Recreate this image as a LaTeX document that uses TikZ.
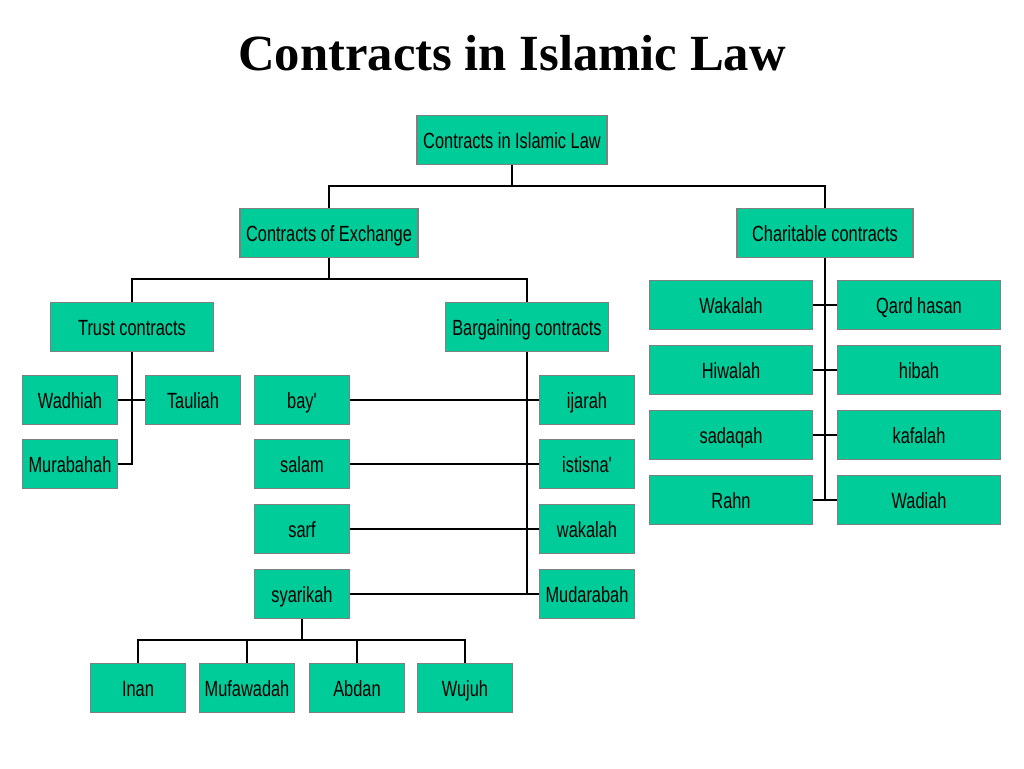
\documentclass[tikz,border=0pt]{standalone}
\usepackage{fontspec}
\setmainfont{Liberation Serif}
\newfontfamily\narrowfont[FakeStretch=0.745]{Liberation Sans}
\usetikzlibrary{positioning}

\definecolor{boxgreen}{HTML}{00CC99}
\definecolor{boxedge}{HTML}{808080}

\tikzset{
    box/.style={draw=boxedge, line width=1.1pt, fill=boxgreen, inner sep=0pt,
        minimum height=37pt, text height=12pt, text depth=0pt,
        font=\narrowfont\fontsize{16.5}{18}\selectfont},
    top/.style={box, minimum width=142.5pt},
    mid/.style={box, minimum width=122pt},
    small/.style={box, minimum width=71.5pt},
    link/.style={line width=1.1pt, black},
}

\begin{document}
\begin{tikzpicture}[x=0.75pt, y=-0.75pt]
    \useasboundingbox (0,0) rectangle (1024,768);

    \node[anchor=base, font=\bfseries\fontsize{38}{42}\selectfont] (title) at (512,70) {Contracts in Islamic Law};

    % first two levels
    \node[top] (law) at (512,140) {Contracts in Islamic Law};
    \node[top, minimum width=133.5pt] (exch) at (329,233) {Contracts of Exchange};
    \node[top, minimum width=132pt] (char) at (825,233) {Charitable contracts};
    \coordinate (j1) at (512,186);
    \draw[link] (law) -- (j1) -| (exch);
    \draw[link] (j1) -| (char);

    \node[mid] (trust) at (132,327) {Trust contracts};
    \node[mid] (barg) at (527,327) {Bargaining contracts};
    \coordinate (j2) at (329,279);
    \draw[link] (exch) -- (j2) -| (trust);
    \draw[link] (j2) -| (barg);

    % trust contracts
    \node[small] (wadhiah) at (70,400) {Wadhiah};
    \node[small] (tauliah) at (193,400) {Tauliah};
    \node[small] (murabahah) at (70,464) {Murabahah};
    \draw[link] (trust) |- (murabahah);
    \draw[link] (wadhiah) -- (tauliah);

    % bargaining contracts
    \node[small] (bay) at (302,400) {bay'};
    \node[small] (salam) at (302,464) {salam};
    \node[small] (sarf) at (302,529) {sarf};
    \node[small] (syarikah) at (302,594) {syarikah};
    \node[small] (ijarah) at (587,400) {ijarah};
    \node[small] (istisna) at (587,464) {istisna'};
    \node[small] (wakalah) at (587,529) {wakalah};
    \node[small] (mudarabah) at (587,594) {Mudarabah};
    \draw[link] (barg) |- (mudarabah);
    \foreach \a/\b in {bay/ijarah, salam/istisna, sarf/wakalah, syarikah/mudarabah}
        \draw[link] (\a) -- (\b);

    % kinds of syarikah
    \node[small] (inan) at (138,688) {Inan};
    \node[small] (mufawadah) at (247,688) {Mufawadah};
    \node[small] (abdan) at (357,688) {Abdan};
    \node[small] (wujuh) at (465,688) {Wujuh};
    \coordinate (j3) at (302,640);
    \draw[link] (syarikah) -- (j3) -| (inan);
    \foreach \c in {mufawadah, abdan, wujuh}
        \draw[link] (j3) -| (\c);

    % charitable contracts
    \node[mid] (wakalah2) at (731,305) {Wakalah};
    \node[mid] (hiwalah) at (731,370) {Hiwalah};
    \node[mid] (sadaqah) at (731,435) {sadaqah};
    \node[mid] (rahn) at (731,500) {Rahn};
    \node[mid] (qard) at (919,305) {Qard hasan};
    \node[mid] (hibah) at (919,370) {hibah};
    \node[mid] (kafalah) at (919,435) {kafalah};
    \node[mid] (wadiah) at (919,500) {Wadiah};
    \draw[link] (char) -- (char |- rahn);
    \foreach \a/\b in {wakalah2/qard, hiwalah/hibah, sadaqah/kafalah, rahn/wadiah}
        \draw[link] (\a) -- (\b);
\end{tikzpicture}
\end{document}
